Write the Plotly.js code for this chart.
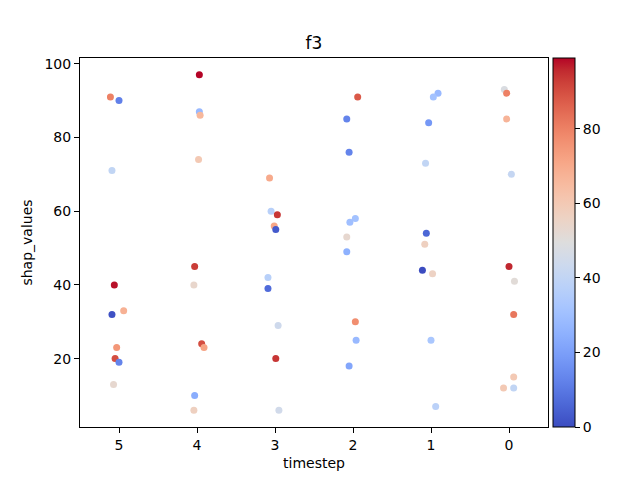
<!DOCTYPE html>
<html>
<head>
<meta charset="utf-8">
<script src="https://cdn.plot.ly/plotly-3.0.1.min.js"></script>
<style>html,body{margin:0;padding:0;background:#fff;}#chart{width:640px;height:480px;}</style>
</head>
<body>
<div id="chart"></div>
<script>
// timestep categories (left to right)
const timesteps = [5, 4, 3, 2, 1, 0];

// shap values per timestep
const shap5 = [91, 90, 71, 40, 32, 33, 23, 20, 19, 13];
const shap4 = [97, 87, 86, 74, 45, 40, 24, 23, 10, 6];
const shap3 = [69, 60, 59, 56, 55, 42, 39, 29, 20, 6];
const shap2 = [91, 85, 76, 58, 57, 53, 49, 30, 25, 18];
const shap1 = [92, 91, 84, 73, 54, 51, 44, 43, 25, 7];
const shap0 = [93, 92, 85, 70, 45, 41, 32, 15, 12, 12];

// colour feature values per timestep
const col5 = [80, 12, 40, 98, 1, 68, 75, 90, 13, 53];
const col4 = [99, 28, 66, 60, 93, 54, 90, 72, 24, 57];
const col3 = [70, 37, 94, 71, 3, 37, 7, 44, 94, 45];
const col2 = [88, 13, 13, 31, 30, 53, 25, 77, 28, 22];
const col1 = [28, 31, 18, 40, 6, 57, 0, 56, 33, 38];
const col0 = [48, 80, 67, 41, 96, 51, 82, 60, 60, 40];

// strip jitter (category units, rightward on screen)
const jit5 = [-0.11, 0.00, -0.09, -0.06, -0.09, 0.06, -0.03, -0.05, 0.00, -0.07];
const jit4 = [0.03, 0.03, 0.04, 0.02, -0.03, -0.04, 0.06, 0.09, -0.03, -0.04];
const jit3 = [-0.07, -0.05, 0.03, -0.01, 0.01, -0.09, -0.09, 0.04, 0.01, 0.05];
const jit2 = [0.06, -0.08, -0.05, 0.03, -0.04, -0.08, -0.08, 0.03, 0.04, -0.05];
const jit1 = [0.09, 0.03, -0.03, -0.07, -0.06, -0.08, -0.11, 0.02, 0.00, 0.06];
const jit0 = [-0.06, -0.03, -0.03, 0.03, 0.00, 0.07, 0.06, 0.06, -0.07, 0.06];

const shapAll = [shap5, shap4, shap3, shap2, shap1, shap0];
const colAll = [col5, col4, col3, col2, col1, col0];
const jitAll = [jit5, jit4, jit3, jit2, jit1, jit0];

const xs = [], ys = [], cs = [];
timesteps.forEach((t, i) => {
  shapAll[i].forEach((v, j) => {
    xs.push(t - jitAll[i][j]);
    ys.push(v);
    cs.push(colAll[i][j]);
  });
});

const coolwarm = [
[0,'rgb(59,76,192)'],[0.03125,'rgb(68,90,204)'],[0.0625,'rgb(77,104,215)'],[0.09375,'rgb(87,117,225)'],
[0.125,'rgb(98,130,234)'],[0.15625,'rgb(108,142,241)'],[0.1875,'rgb(119,154,247)'],[0.21875,'rgb(130,165,251)'],
[0.25,'rgb(141,176,254)'],[0.28125,'rgb(152,185,255)'],[0.3125,'rgb(163,194,255)'],[0.34375,'rgb(174,201,253)'],
[0.375,'rgb(184,208,249)'],[0.40625,'rgb(194,213,244)'],[0.4375,'rgb(204,217,238)'],[0.46875,'rgb(213,219,230)'],
[0.5,'rgb(221,221,221)'],[0.53125,'rgb(229,216,209)'],[0.5625,'rgb(236,211,197)'],[0.59375,'rgb(241,204,185)'],
[0.625,'rgb(245,196,173)'],[0.65625,'rgb(247,187,160)'],[0.6875,'rgb(247,177,148)'],[0.71875,'rgb(247,166,135)'],
[0.75,'rgb(244,154,123)'],[0.78125,'rgb(241,141,111)'],[0.8125,'rgb(236,127,99)'],[0.84375,'rgb(229,112,88)'],
[0.875,'rgb(222,96,77)'],[0.90625,'rgb(213,80,66)'],[0.9375,'rgb(203,62,56)'],[0.96875,'rgb(192,40,47)'],
[1,'rgb(180,4,38)']];

const font = {family: 'DejaVu Sans', size: 14, color: '#000'};

const trace = {
  type: 'scatter', mode: 'markers', x: xs, y: ys,
  marker: {
    size: 7, color: cs, colorscale: coolwarm, cmin: 0, cmax: 99,
    line: {width: 0},
    colorbar: {
      x: 1.0107, xanchor: 'left', xref: 'paper',
      y: 0.5, yanchor: 'middle', len: 1, lenmode: 'fraction',
      thickness: 22, thicknessmode: 'pixels',
      outlinewidth: 1, outlinecolor: '#000', borderwidth: 0,
      tickvals: [0, 20, 40, 60, 80], ticks: 'outside', ticklen: 5, tickwidth: 1, tickcolor: '#000',
      tickfont: font, xpad: 0, ypad: 0
    }
  },
  hoverinfo: 'skip', showlegend: false
};

const layout = {
  width: 640, height: 480,
  margin: {l: 80, r: 92, t: 58, b: 53},
  paper_bgcolor: '#fff', plot_bgcolor: '#fff',
  font: font,
  title: {text: 'f3', font: {family: 'DejaVu Sans', size: 17, color: '#000'}, x: 0.4906, xanchor: 'center', y: 0.91, yanchor: 'middle'},
  xaxis: {
    range: [5.5, -0.5], tickvals: timesteps, ticktext: timesteps.map(String),
    showgrid: false, zeroline: false, showline: true, linecolor: '#000', linewidth: 1, mirror: true,
    ticks: 'outside', ticklen: 5, tickcolor: '#000', tickfont: font,
    title: {text: 'timestep', font: font, standoff: 6}
  },
  yaxis: {
    range: [1.45, 101.55], tickvals: [20, 40, 60, 80, 100],
    showgrid: false, zeroline: false, showline: true, linecolor: '#000', linewidth: 1, mirror: true,
    ticks: 'outside', ticklen: 5, tickcolor: '#000', tickfont: font,
    title: {text: 'shap_values', font: font, standoff: 8}
  }
};

Plotly.newPlot('chart', [trace], layout, {displayModeBar: false, staticPlot: true});
</script>
</body>
</html>
